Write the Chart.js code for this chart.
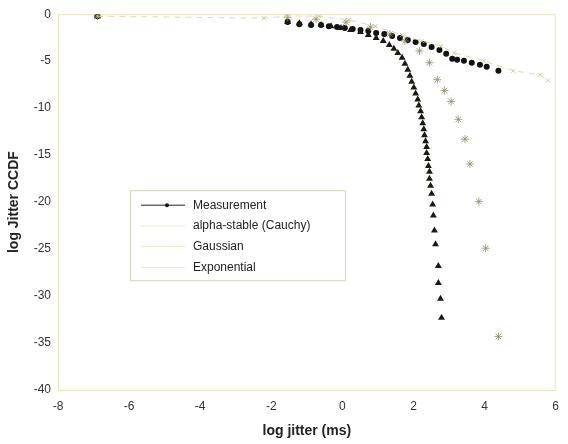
<!DOCTYPE html>
<html>
<head>
<meta charset="utf-8">
<script src="https://cdn.jsdelivr.net/npm/chart.js@4.4.1/dist/chart.umd.min.js"></script>
<style>
  html, body { margin: 0; padding: 0; background: #fff; }
  #wrap { width: 568px; height: 444px; }
</style>
</head>
<body>
<div id="wrap"><canvas id="ccdf"></canvas></div>
<script>
// measured jitter CCDF (log-log)
const measX = [-6.89, -1.54, -1.21, -0.88, -0.60, -0.38, -0.15, 0.07, 0.29, 0.51, 0.73, 0.95, 1.18, 1.40,
    1.62, 1.84, 2.06, 2.29, 2.51, 2.73, 2.92, 3.09, 3.23, 3.42, 3.64, 3.87, 4.06, 4.39];
const measY = [-0.21, -0.84, -1.06, -1.16, -1.16, -1.27, -1.37, -1.48, -1.58, -1.69, -1.79, -2.01, -2.11, -2.32,
    -2.53, -2.74, -2.96, -3.17, -3.48, -3.80, -4.22, -4.75, -4.85, -4.96, -5.17, -5.38, -5.59, -6.02];

// alpha-stable (Cauchy) fit
const cauchyX = [-6.89, -2.21, -1.57, -0.65, 0.18, 0.93, 1.68, 2.23, 2.78, 3.15, 3.98, 4.81, 5.56, 5.78];
const cauchyY = [-0.21, -0.42, -0.21, -0.21, -0.63, -1.27, -2.22, -2.85, -3.38, -4.12, -4.96, -6.02, -6.44, -7.07];

// Gaussian fit
const gaussX = [-6.89, -1.54, -1.21, -0.88, -0.60, -0.32, -0.04, 0.23, 0.51, 0.73, 0.95, 1.15, 1.32, 1.45,
    1.56, 1.68, 1.76, 1.84, 1.90, 1.95, 2.01, 2.06, 2.12, 2.15, 2.20, 2.23, 2.26, 2.29, 2.31, 2.34, 2.37,
    2.37, 2.40, 2.42, 2.45, 2.45, 2.48, 2.51, 2.54, 2.56, 2.59, 2.62, 2.70, 2.70, 2.76, 2.79];
const gaussY = [-0.21, -0.84, -0.95, -1.06, -1.16, -1.27, -1.48, -1.69, -1.90, -2.22, -2.53, -2.85, -3.27, -3.69,
    -4.12, -4.64, -5.28, -5.91, -6.54, -7.18, -7.81, -8.44, -9.08, -9.71, -10.34, -10.98, -11.61, -12.24, -12.88,
    -13.51, -14.14, -14.78, -15.41, -16.15, -16.78, -17.52, -18.26, -19.10, -20.26, -21.42, -23.01, -24.49,
    -26.81, -28.60, -30.29, -32.30];

// Exponential fit
const expoX = [-6.89, -1.54, -0.74, 0.10, 0.79, 1.34, 1.76, 2.17, 2.45, 2.67, 2.87, 3.06, 3.26, 3.45, 3.59,
    3.84, 4.03, 4.39];
const expoY = [-0.21, -0.32, -0.53, -0.84, -1.37, -2.11, -2.85, -3.91, -5.17, -6.97, -8.13, -9.29, -11.19,
    -13.30, -15.94, -19.95, -24.91, -34.30];

const xTicks = [-8, -6, -4, -2, 0, 2, 4, 6];
const yTicks = [0, -5, -10, -15, -20, -25, -30, -35, -40];

const seriesNames = ['Measurement', 'alpha-stable (Cauchy)', 'Gaussian', 'Exponential'];

const toPoints = (xs, ys) => xs.map((x, i) => ({ x, y: ys[i] }));

const faint = 'rgba(222, 216, 160, 0.9)';
const axisColor = 'rgb(232, 228, 190)';

Chart.defaults.font.family = '"Liberation Sans", Arial, sans-serif';
Chart.defaults.color = '#333';

// box around the plot area
const frame = {
    id: 'frame',
    beforeDatasetsDraw(chart) {
        const { ctx, chartArea: a } = chart;
        ctx.save();
        ctx.strokeStyle = axisColor;
        ctx.lineWidth = 1;
        ctx.strokeRect(a.left + 0.5, a.top + 0.5, a.right - a.left - 1, a.bottom - a.top);
        ctx.restore();
    }
};

// boxed legend inside the axes
const boxLegend = {
    id: 'boxLegend',
    afterDatasetsDraw(chart) {
        const { ctx, chartArea: a } = chart;
        const left = a.left + 72, top = a.top + 176, w = 215, h = 90;
        ctx.save();
        ctx.fillStyle = '#fff';
        ctx.fillRect(left, top, w, h);
        ctx.strokeStyle = 'rgb(215, 212, 190)';
        ctx.lineWidth = 1;
        ctx.strokeRect(left + 0.5, top + 0.5, w, h);
        ctx.font = '12px "Liberation Sans", Arial, sans-serif';
        ctx.textBaseline = 'middle';
        seriesNames.forEach((name, i) => {
            const y = top + 15 + i * 20.7;
            ctx.strokeStyle = i === 0 ? '#222' : 'rgba(235, 230, 195, 0.9)';
            ctx.beginPath();
            ctx.moveTo(left + 11, y);
            ctx.lineTo(left + 55, y);
            ctx.stroke();
            if (i === 0) {
                ctx.fillStyle = '#111';
                ctx.beginPath();
                ctx.arc(left + 37, y, 2, 0, Math.PI * 2);
                ctx.fill();
            }
            ctx.fillStyle = '#222';
            ctx.fillText(name, left + 63, y);
        });
        ctx.restore();
    }
};

new Chart(document.getElementById('ccdf'), {
    type: 'scatter',
    data: {
        datasets: [
            {
                label: seriesNames[1],
                data: toPoints(cauchyX, cauchyY),
                showLine: true,
                borderColor: faint,
                borderWidth: 1,
                borderDash: [6, 5],
                pointStyle: 'crossRot',
                pointRadius: 3,
                pointBorderColor: 'rgba(200, 195, 140, 0.8)',
                pointBorderWidth: 1,
            },
            {
                label: seriesNames[3],
                data: toPoints(expoX, expoY),
                showLine: false,
                pointStyle: 'star',
                pointRadius: 4,
                pointBorderColor: 'rgba(140, 135, 100, 0.75)',
                pointBorderWidth: 1,
            },
            {
                label: seriesNames[2],
                data: toPoints(gaussX, gaussY),
                showLine: false,
                pointStyle: 'triangle',
                pointRadius: 4,
                pointBackgroundColor: '#1a1a12',
                pointBorderColor: '#1a1a12',
                pointBorderWidth: 0,
            },
            {
                label: seriesNames[0],
                data: toPoints(measX, measY),
                showLine: false,
                pointStyle: 'circle',
                pointRadius: 3,
                pointBackgroundColor: '#111',
                pointBorderColor: '#111',
                pointBorderWidth: 0,
            },
        ]
    },
    options: {
        responsive: true,
        maintainAspectRatio: false,
        animation: false,
        layout: { padding: { top: 11, right: 5, left: 0, bottom: 0 } },
        scales: {
            x: {
                type: 'linear',
                min: -8,
                max: 6,
                afterBuildTicks: (scale) => { scale.ticks = xTicks.map(v => ({ value: v })); },
                afterFit: (scale) => { scale.height = 54; },
                grid: { display: false, drawTicks: false },
                border: { display: false },
                ticks: { padding: 9, font: { size: 12 }, color: '#333' },
                title: {
                    display: true,
                    text: 'log jitter (ms)',
                    font: { size: 14, weight: 'bold' },
                    color: '#222',
                    padding: { top: 0, bottom: 4 },
                },
            },
            y: {
                type: 'linear',
                min: -40,
                max: 0,
                afterBuildTicks: (scale) => { scale.ticks = yTicks.map(v => ({ value: v })); },
                afterFit: (scale) => { scale.width = 58; },
                grid: { display: false, drawTicks: false },
                border: { display: false },
                ticks: { padding: 7, font: { size: 12 }, color: '#333' },
                title: {
                    display: true,
                    text: 'log Jitter CCDF',
                    font: { size: 14, weight: 'bold' },
                    color: '#222',
                    padding: { top: 6, bottom: 0 },
                },
            },
        },
        plugins: {
            legend: { display: false },
            tooltip: { enabled: false },
        },
    },
    plugins: [frame, boxLegend],
});
</script>
</body>
</html>
